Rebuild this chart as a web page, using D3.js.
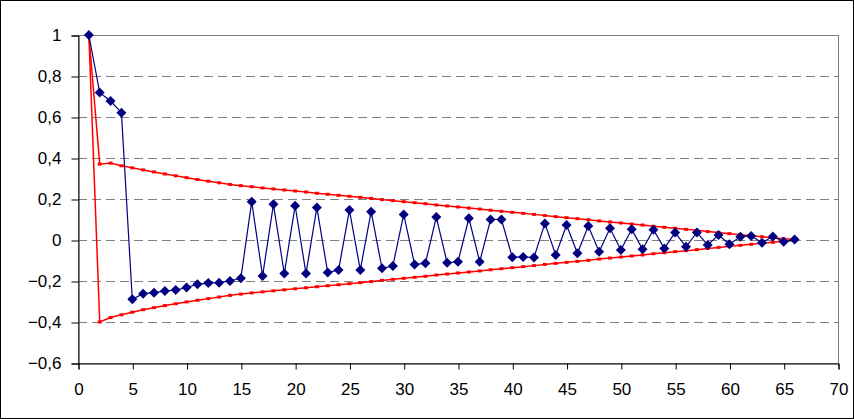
<!DOCTYPE html>
<html>
<head>
<meta charset="utf-8">
<script src="https://cdn.jsdelivr.net/npm/d3@7"></script>
<style>
  html, body { margin: 0; padding: 0; background: #fff; }
  svg { display: block; }
  text { font-family: "Liberation Sans", Arial, sans-serif; fill: #000; }
</style>
</head>
<body>
<svg id="chart" width="854" height="419"></svg>
<script>
// lags 1..66
const lags = d3.range(1, 67)

// autocorrelation (blue, diamonds)
const acf = [
  1, 0.719, 0.678, 0.621, -0.289, -0.262, -0.257, -0.249, -0.244, -0.232,
  -0.216, -0.21, -0.208, -0.2, -0.186, 0.187, -0.176, 0.174, -0.164, 0.167,
  -0.164, 0.159, -0.159, -0.146, 0.146, -0.146, 0.138, -0.138, -0.127, 0.125,
  -0.119, -0.114, 0.112, -0.111, -0.106, 0.106, -0.106, 0.1, 0.1, -0.084,
  -0.083, -0.085, 0.081, -0.073, 0.073, -0.065, 0.068, -0.057, 0.057, -0.049,
  0.052, -0.045, 0.05, -0.041, 0.036, -0.033, 0.037, -0.024, 0.024, -0.021,
  0.016, 0.02, -0.013, 0.017, -0.008, 0.002
]

// upper confidence bound (red)
const upper = [
  1, 0.37, 0.375, 0.362, 0.352, 0.342, 0.332, 0.322, 0.313, 0.304,
  0.295, 0.287, 0.279, 0.271, 0.265, 0.26, 0.254, 0.249, 0.244, 0.239,
  0.234, 0.228, 0.223, 0.218, 0.213, 0.208, 0.203, 0.197, 0.192, 0.187,
  0.182, 0.177, 0.171, 0.166, 0.161, 0.156, 0.151, 0.145, 0.14, 0.135,
  0.13, 0.125, 0.119, 0.114, 0.109, 0.104, 0.099, 0.093, 0.088, 0.083,
  0.078, 0.073, 0.067, 0.062, 0.057, 0.052, 0.047, 0.041, 0.036, 0.031,
  0.026, 0.021, 0.016, 0.011, 0.006, 0.002
]

// lower confidence bound (red)
const lower = [
  1, -0.4, -0.378, -0.365, -0.352, -0.34, -0.33, -0.32, -0.311, -0.302,
  -0.294, -0.286, -0.278, -0.27, -0.264, -0.258, -0.253, -0.248, -0.243, -0.238,
  -0.233, -0.228, -0.223, -0.218, -0.213, -0.208, -0.203, -0.197, -0.192, -0.187,
  -0.182, -0.177, -0.171, -0.166, -0.161, -0.156, -0.151, -0.145, -0.14, -0.135,
  -0.13, -0.125, -0.119, -0.114, -0.109, -0.104, -0.099, -0.093, -0.088, -0.083,
  -0.078, -0.073, -0.067, -0.062, -0.057, -0.052, -0.047, -0.041, -0.036, -0.031,
  -0.026, -0.021, -0.016, -0.011, -0.006, -0.002
]

const xTicks = d3.range(0, 71, 5)
const yTicks = [-0.6, -0.4, -0.2, 0, 0.2, 0.4, 0.6, 0.8, 1]

const W = 854, H = 419
const plot = { left: 78, right: 838, top: 35, bottom: 363 }

const svg = d3.select('#chart')

// outer frame
svg.append('rect')
  .attr('x', 0.5).attr('y', 0.5)
  .attr('width', W - 1).attr('height', H - 1)
  .attr('fill', '#fff').attr('stroke', '#000')

const x = d3.scaleLinear().domain([0, 70]).range([plot.left, plot.right])
const y = d3.scaleLinear().domain([-0.6, 1]).range([plot.bottom, plot.top])

// gridlines
svg.append('g')
  .selectAll('line')
  .data(yTicks.filter(v => v > -0.6 && v < 1))
  .join('line')
  .attr('x1', plot.left).attr('x2', plot.right)
  .attr('y1', d => Math.round(y(d)) + 0.5)
  .attr('y2', d => Math.round(y(d)) + 0.5)
  .attr('stroke', '#808080')
  .attr('stroke-dasharray', '9,5')

// plot area border
svg.append('rect')
  .attr('x', plot.left + 0.5).attr('y', plot.top + 0.5)
  .attr('width', plot.right - plot.left).attr('height', plot.bottom - plot.top)
  .attr('fill', 'none').attr('stroke', '#808080')

// axes
const fmt = d => d3.format('.1~f')(d).replace('.', ',')

const yAxis = svg.append('g')
  .attr('transform', `translate(${plot.left + 0.5},0.5)`)
  .call(d3.axisLeft(y).tickValues(yTicks).tickFormat(fmt).tickSize(7).tickPadding(10))
yAxis.select('.domain').attr('stroke', '#000')
yAxis.selectAll('.tick line').attr('stroke', '#000')
yAxis.selectAll('text').attr('font-size', 17).attr('font-family', '"Liberation Sans", Arial, sans-serif')

const xAxis = svg.append('g')
  .attr('transform', `translate(0.5,${plot.bottom + 0.5})`)
  .call(d3.axisBottom(x).tickValues(xTicks).tickFormat(d3.format('d')).tickSize(6).tickPadding(13))
xAxis.select('.domain').attr('stroke', '#000')
xAxis.selectAll('.tick line').attr('stroke', '#000')
xAxis.selectAll('text').attr('font-size', 17).attr('font-family', '"Liberation Sans", Arial, sans-serif')

// red bounds
const boundLine = vals => d3.line()
  .x((d, i) => x(lags[i]))
  .y(d => y(d))(vals)

for (const vals of [upper, lower]) {
  svg.append('path')
    .attr('d', boundLine(vals))
    .attr('fill', 'none')
    .attr('stroke', '#ff0000')
    .attr('stroke-width', 1.5)
  svg.append('g')
    .selectAll('rect')
    .data(vals)
    .join('rect')
    .attr('x', (d, i) => x(lags[i]) - 2)
    .attr('y', d => y(d) - 1.5)
    .attr('width', 4).attr('height', 3)
    .attr('fill', '#ff0000')
}

// blue acf
svg.append('path')
  .attr('d', d3.line().x((d, i) => x(lags[i])).y(d => y(d))(acf))
  .attr('fill', 'none')
  .attr('stroke', '#000080')
  .attr('stroke-width', 1.2)

svg.append('g')
  .selectAll('path')
  .data(acf)
  .join('path')
  .attr('transform', (d, i) => `translate(${x(lags[i])},${y(d)})`)
  .attr('d', 'M0,-5L5,0L0,5L-5,0Z')
  .attr('fill', '#000080')
</script>
</body>
</html>
